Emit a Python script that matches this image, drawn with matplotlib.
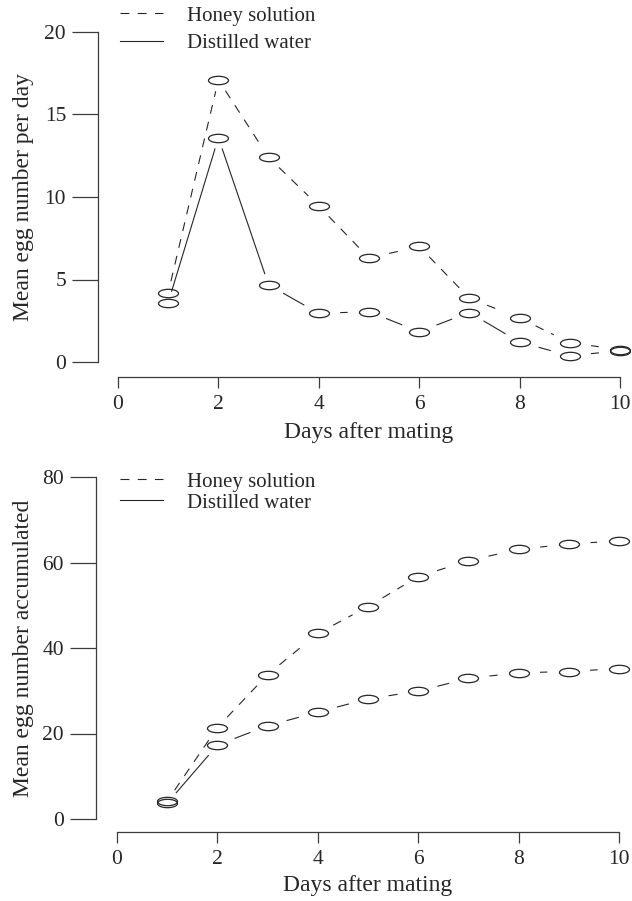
import numpy as np
import matplotlib
matplotlib.use("Agg")
import matplotlib.pyplot as plt
from matplotlib.path import Path
from matplotlib.transforms import Affine2D
from matplotlib.lines import Line2D

# data
days = [1, 2, 3, 4, 5, 6, 7, 8, 9, 10]
honey_daily = [4.2, 17.1, 12.4, 9.45, 6.3, 7.0, 3.86, 2.67, 1.17, 0.75]
water_daily = [3.6, 13.6, 4.67, 2.95, 3.05, 1.84, 3.0, 1.2, 0.38, 0.68]
honey_cum = [4.2, 21.4, 33.8, 43.4, 49.7, 56.7, 60.4, 63.1, 64.3, 65.1]
water_cum = [3.7, 17.3, 21.8, 25.0, 28.1, 29.9, 32.9, 34.2, 34.5, 35.2]
labels = ["Honey solution", "Distilled water"]

plt.rcParams['font.family'] = ['Liberation Serif', 'DejaVu Serif']
INK = '#262626'
AX = '#3c3c3c'
W, H = 632, 901

fig = plt.figure(figsize=(W / 100, H / 100), dpi=100)

# ellipse marker (the original looks like a horizontally stretched R plot)
ell = Path.unit_circle().transformed(Affine2D().scale(1, 0.42))
DASH = (0, (8, 7.5))


def px_axes(left, top, right, bottom):
    return fig.add_axes([left / W, 1 - bottom / H, (right - left) / W, (bottom - top) / H])


def gapped(ax, x, y, ls, a=22.0, b=11.5):
    # type="b" style: line segments stop short of the points
    pts = ax.transData.transform(np.column_stack([x, y]))
    inv = ax.transData.inverted()
    for p0, p1 in zip(pts[:-1], pts[1:]):
        d = p1 - p0
        t = 1.0 / np.sqrt((d[0] / a) ** 2 + (d[1] / b) ** 2)
        if t >= 0.5:
            continue
        seg = inv.transform(np.array([p0 + t * d, p1 - t * d]))
        ax.plot(seg[:, 0], seg[:, 1], color=INK, lw=0.8, ls=ls)


def setup(ax, ylim, ymax, yticks, xlim, ylab_x, xlab_top, ylabel):
    ax.set_xlim(*xlim)
    ax.set_ylim(*ylim)
    for s in ['top', 'right']:
        ax.spines[s].set_visible(False)
    for s in ['left', 'bottom']:
        ax.spines[s].set_color(AX)
        ax.spines[s].set_linewidth(0.9)
    ax.spines['left'].set_bounds(0, ymax)
    ax.spines['bottom'].set_bounds(0, 10)
    ax.set_xticks([0, 2, 4, 6, 8, 10])
    ax.set_yticks(yticks)
    ax.tick_params(axis='x', length=8, width=0.9, color=AX, pad=5, labelsize=15.5, labelcolor=INK)
    ax.tick_params(axis='y', length=19, width=0.9, color=AX, pad=4, labelsize=15.5, labelcolor=INK)
    ax.set_xlabel("Days after mating", fontsize=17, color=INK)
    ax.set_ylabel(ylabel, fontsize=17, color=INK)
    xl = ax.get_xlim()
    yl = ax.get_ylim()
    ax.xaxis.set_label_coords((5 - xl[0]) / (xl[1] - xl[0]), xlab_top)
    ax.yaxis.set_label_coords(ylab_x, (ymax / 2 - yl[0]) / (yl[1] - yl[0]))


def legend(ax, top_px, spacing):
    handles = [Line2D([], [], color=INK, lw=0.8, ls=DASH),
               Line2D([], [], color=INK, lw=0.8)]
    ax.legend(handles, labels, loc='upper left', frameon=False, fontsize=15,
              bbox_to_anchor=(120 / W, 1 - top_px / H), bbox_transform=fig.transFigure,
              borderpad=0, borderaxespad=0, handlelength=2.05, handletextpad=1.15,
              labelspacing=spacing, labelcolor=INK)


# top panel: eggs per day
ax1 = px_axes(98, 20, 630, 377)
setup(ax1, (-15 / 16.5, 20 + 12 / 16.5), 20, [0, 5, 10, 15, 20],
      (-20 / 50.2, 10 + 10 / 50.2), -64 / 532, -0.125, "Mean egg number per day")
gapped(ax1, days, honey_daily, DASH)
gapped(ax1, days, water_daily, '-')
for vals in (honey_daily, water_daily):
    ax1.plot(days, vals, ls='none', marker=ell, ms=14.4, mfc='none', mec=INK, mew=0.9)
legend(ax1, 6, 0.4)

# bottom panel: accumulated eggs
ax2 = px_axes(96, 460, 630, 832)
setup(ax2, (-13 / 4.275, 80 + 17 / 4.275), 80, [0, 20, 40, 60, 80],
      (-21 / 50.2, 10 + 11 / 50.2), -62 / 534, -0.115, "Mean egg number accumulated")
gapped(ax2, days, honey_cum, DASH)
gapped(ax2, days, water_cum, '-')
for vals in (honey_cum, water_cum):
    ax2.plot(days, vals, ls='none', marker=ell, ms=14.4, mfc='none', mec=INK, mew=0.9)
legend(ax2, 472, 0.07)

fig.savefig("out.png", dpi=100)
